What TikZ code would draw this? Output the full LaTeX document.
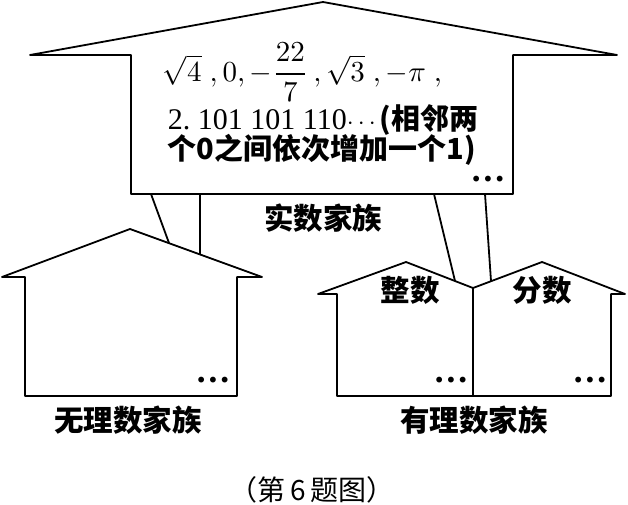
\documentclass[tikz,border=0pt]{standalone}
\usepackage{amsmath}
\usepackage{fontspec}
\setmainfont{Liberation Serif}
\newfontfamily\cjk{Noto Sans CJK SC}
\newfontfamily\dejavu{DejaVu Sans}
\begin{document}
\begin{tikzpicture}[x=1pt,y=-1pt,line width=1.8pt,line join=round,
  lbl/.style={font=\cjk\bfseries\fontsize{29.5}{31}\selectfont,inner sep=0pt},
  txt/.style={font=\fontsize{30}{32}\selectfont,inner sep=0pt,anchor=west},
  mathtxt/.style={font=\fontsize{10}{12}\selectfont,inner sep=0pt,anchor=west},
  dotsn/.style={font=\dejavu\fontsize{20}{20}\selectfont,inner sep=0pt},
  captxt/.style={font=\cjk\fontsize{28}{30}\selectfont,inner sep=0pt}]
\useasboundingbox (0,0) rectangle (628,505);
% top house (real numbers)
\draw (30,55) -- (323,2) -- (617,55) -- (513,55) -- (513,194) -- (131,194) -- (131,55) -- cycle;
% left house (irrational)
\draw (2,277) -- (130,229) -- (262,277) -- (237,277) -- (237,396) -- (25,396) -- (25,277) -- cycle;
% right house (rational)
\draw (318,294) -- (406,262) -- (473,288) -- (542,262) -- (625,294) -- (611,294) -- (611,396) -- (337,396) -- (337,294) -- cycle;
\coordinate (valley) at (473,288);
\coordinate (floor) at (473,396);
\draw (valley) -- (floor);
% legs
\coordinate (ta) at (151,194); \coordinate (la) at (169,243);
\coordinate (tb) at (200,194); \coordinate (lb) at (200,254);
\coordinate (tc) at (434,194); \coordinate (rc) at (455,281);
\coordinate (td) at (485,194); \coordinate (rd) at (491,281);
\draw (ta) -- (la);
\draw (tb) -- (lb);
\draw (tc) -- (rc);
\draw (td) -- (rd);
% texts
\node[mathtxt] (line1) at (162,72) {\scalebox{2.9}{$\sqrt{4}\;,0,-\dfrac{22}{7}\,,\sqrt{3}\;,-\pi\;,$}};
\node[txt] (line2) at (167,120) {2.\ 101\ 101\ 110$\cdots${\cjk\bfseries\fontsize{29}{31}\selectfont (相邻两}};
\node[txt] (line3) at (167,150) {\cjk\bfseries\fontsize{29}{31}\selectfont 个0之间依次增加一个1)};
\node[dotsn] (d0) at (488,181) {•••};
\node[lbl] (real) at (323,218) {实数家族};
\node[lbl] (int) at (410,290) {整数};
\node[lbl] (frac) at (542,290) {分数};
\node[lbl] (irr) at (128,420) {无理数家族};
\node[lbl] (rat) at (474,420) {有理数家族};
\node[dotsn] (d1) at (213,382) {•••};
\node[dotsn] (d2) at (451,382) {•••};
\node[dotsn] (d3) at (590,382) {•••};
\node[captxt] (caption) at (312,490) {（第\,6\,题图）};
\end{tikzpicture}
\end{document}
